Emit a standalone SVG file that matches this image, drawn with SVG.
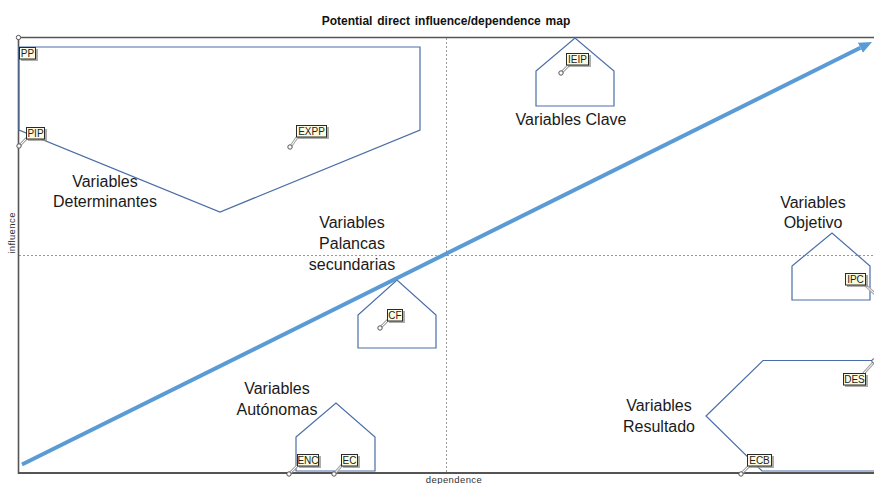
<svg xmlns="http://www.w3.org/2000/svg" width="874" height="484" viewBox="0 0 874 484">
  <style>
    .title { font: bold 12px "Liberation Sans", Arial, sans-serif; fill: #111; word-spacing: 1.5px; }
    .axis-label { font: 9.5px "Liberation Sans", Arial, sans-serif; fill: #333; letter-spacing: 0.4px; }
    .zone { fill: none; stroke: #4a6ea8; stroke-width: 1.2; }
    .zone-text { font: 16px "Liberation Sans", Arial, sans-serif; fill: #1a1a1a; text-anchor: middle; }
    .tag rect.box { fill: #fdfbe0; stroke: #2a2a2a; stroke-width: 1; }
    .tag rect.shadow { fill: #8a8a8a; opacity: 0.7; }
    .tag text { font: 10px "Liberation Sans", Arial, sans-serif; fill: #222; text-anchor: middle; }
    .pt { fill: #fff; stroke: #555; stroke-width: 1; }
    .lead-out { stroke: #a8a8a8; stroke-width: 3; stroke-linecap: round; }
    .lead-in { stroke: #fff; stroke-width: 1; }
    .frame { stroke: #555; fill: none; }
    .mid { stroke: #9a9a9a; stroke-width: 1; stroke-dasharray: 2 2; }
  </style>
  <defs>
    <marker id="head" viewBox="0 -6 14 12" markerWidth="14" markerHeight="12" refX="0" refY="0" markerUnits="userSpaceOnUse" orient="auto">
      <path d="M0,-5.5 L13,0 L0,5.5 z" fill="#5b9bd5"/>
    </marker>
  </defs>

  <rect width="874" height="484" fill="#fff"/>

  <!-- title and axes -->
  <text class="title" x="446" y="25" text-anchor="middle">Potential direct influence/dependence map</text>
  <line class="mid" x1="446.5" y1="38" x2="446.5" y2="472"/>
  <line class="mid" x1="19" y1="255.5" x2="874" y2="255.5"/>
  <line class="frame" x1="18" y1="37.5" x2="874" y2="37.5" stroke-width="1.6"/>
  <line class="frame" x1="18.5" y1="37" x2="18.5" y2="474" stroke-width="1.6"/>
  <line class="frame" x1="18" y1="473" x2="874" y2="473" stroke-width="2"/>
  <text class="axis-label" x="454" y="483" text-anchor="middle">dependence</text>
  <text class="axis-label" x="0" y="0" text-anchor="middle" font-size="8.5" transform="translate(15,233) rotate(-90)">influence</text>

  <!-- quadrant zones -->
  <g id="zone-determinantes">
    <polygon class="zone" points="19,47 420,47 420,130 220,212 19,130"/>
    <text class="zone-text" x="105" y="187">Variables</text>
    <text class="zone-text" x="105" y="207">Determinantes</text>
  </g>
  <g id="zone-clave">
    <polygon class="zone" points="536,106 536,71 575,38 614,71 614,106"/>
    <text class="zone-text" x="571" y="125">Variables Clave</text>
  </g>
  <g id="zone-palancas">
    <polygon class="zone" points="358,348 358,315 397,280 436,315 436,348"/>
    <text class="zone-text" x="352" y="228">Variables</text>
    <text class="zone-text" x="352" y="249">Palancas</text>
    <text class="zone-text" x="352" y="270">secundarias</text>
  </g>
  <g id="zone-objetivo">
    <polygon class="zone" points="792,300 792,266 832,233 870,266 870,300"/>
    <text class="zone-text" x="813" y="208">Variables</text>
    <text class="zone-text" x="813" y="228">Objetivo</text>
  </g>
  <g id="zone-autonomas">
    <polygon class="zone" points="296,471 296,437 336,403 375,437 375,471"/>
    <text class="zone-text" x="277" y="394">Variables</text>
    <text class="zone-text" x="277" y="415">Autónomas</text>
  </g>
  <g id="zone-resultado">
    <polyline class="zone" points="876,360.5 763,360.5 706,416 762,471 876,471"/>
    <text class="zone-text" x="659" y="411">Variables</text>
    <text class="zone-text" x="659" y="432">Resultado</text>
  </g>

  <!-- connectors: trend arrow and leader lines -->
  <g id="connectors">
    <line x1="22" y1="464.5" x2="860.4" y2="47.8" stroke="#5b9bd5" stroke-width="4" marker-end="url(#head)"/>
    <g>
      <line class="lead-out" x1="20" y1="145" x2="28" y2="137"/><line class="lead-in" x1="20" y1="145" x2="28" y2="137"/>
      <line class="lead-out" x1="291" y1="146" x2="298" y2="136"/><line class="lead-in" x1="291" y1="146" x2="298" y2="136"/>
      <line class="lead-out" x1="562" y1="72" x2="569" y2="65"/><line class="lead-in" x1="562" y1="72" x2="569" y2="65"/>
      <line class="lead-out" x1="381" y1="327" x2="388" y2="320"/><line class="lead-in" x1="381" y1="327" x2="388" y2="320"/>
      <line class="lead-out" x1="864" y1="284" x2="875" y2="294"/><line class="lead-in" x1="864" y1="284" x2="875" y2="294"/>
      <line class="lead-out" x1="864" y1="373" x2="874" y2="362"/><line class="lead-in" x1="864" y1="373" x2="874" y2="362"/>
      <line class="lead-out" x1="290" y1="473" x2="298" y2="465"/><line class="lead-in" x1="290" y1="473" x2="298" y2="465"/>
      <line class="lead-out" x1="335" y1="473" x2="342" y2="465"/><line class="lead-in" x1="335" y1="473" x2="342" y2="465"/>
      <line class="lead-out" x1="742" y1="473" x2="749" y2="466"/><line class="lead-in" x1="742" y1="473" x2="749" y2="466"/>
    </g>
  </g>

  <!-- variables: point plus label -->
  <g id="var-PP" class="tag">
    <circle class="pt" cx="18.5" cy="37.5" r="2.2"/>
    <rect class="shadow" x="21" y="49" width="17" height="12"/>
    <rect class="box" x="19.5" y="47.5" width="16" height="11.5"/>
    <text x="27.5" y="57">PP</text>
  </g>
  <g id="var-PIP" class="tag">
    <circle class="pt" cx="19" cy="146" r="2.2"/>
    <rect class="shadow" x="28" y="129" width="19" height="12"/>
    <rect class="box" x="26.5" y="127.5" width="18" height="11.5"/>
    <text x="35.5" y="137">PIP</text>
  </g>
  <g id="var-EXPP" class="tag">
    <circle class="pt" cx="290" cy="147" r="2.2"/>
    <rect class="shadow" x="298" y="127" width="31" height="12"/>
    <rect class="box" x="296.5" y="125.5" width="30" height="11.5"/>
    <text x="311.5" y="135">EXPP</text>
  </g>
  <g id="var-IEIP" class="tag">
    <circle class="pt" cx="561" cy="73" r="2.2"/>
    <rect class="shadow" x="568" y="55" width="23" height="12"/>
    <rect class="box" x="566.5" y="53.5" width="22" height="11.5"/>
    <text x="577.5" y="63">IEIP</text>
  </g>
  <g id="var-CF" class="tag">
    <circle class="pt" cx="380" cy="328" r="2.2"/>
    <rect class="shadow" x="389" y="311" width="16" height="12"/>
    <rect class="box" x="387.5" y="309.5" width="15" height="11.5"/>
    <text x="395" y="319">CF</text>
  </g>
  <g id="var-IPC" class="tag">
    <rect class="shadow" x="847" y="275" width="21" height="12"/>
    <rect class="box" x="845.5" y="273.5" width="20" height="11.5"/>
    <text x="855.5" y="283">IPC</text>
  </g>
  <g id="var-DES" class="tag">
    <circle class="pt" cx="874" cy="361" r="2.2"/>
    <rect class="shadow" x="845" y="375" width="23" height="12"/>
    <rect class="box" x="843.5" y="373.5" width="22" height="11.5"/>
    <text x="854.5" y="383">DES</text>
  </g>
  <g id="var-ENC" class="tag">
    <circle class="pt" cx="289" cy="474" r="2.2"/>
    <rect class="shadow" x="299" y="456" width="22" height="12"/>
    <rect class="box" x="297.5" y="454.5" width="21" height="11.5"/>
    <text x="308" y="464">ENC</text>
  </g>
  <g id="var-EC" class="tag">
    <circle class="pt" cx="334" cy="474" r="2.2"/>
    <rect class="shadow" x="343" y="456" width="17" height="12"/>
    <rect class="box" x="341.5" y="454.5" width="16" height="11.5"/>
    <text x="349.5" y="464">EC</text>
  </g>
  <g id="var-ECB" class="tag">
    <circle class="pt" cx="741" cy="474" r="2.2"/>
    <rect class="shadow" x="749" y="456" width="25" height="12"/>
    <rect class="box" x="747.5" y="454.5" width="24" height="11.5"/>
    <text x="759.5" y="464">ECB</text>
  </g>
</svg>
